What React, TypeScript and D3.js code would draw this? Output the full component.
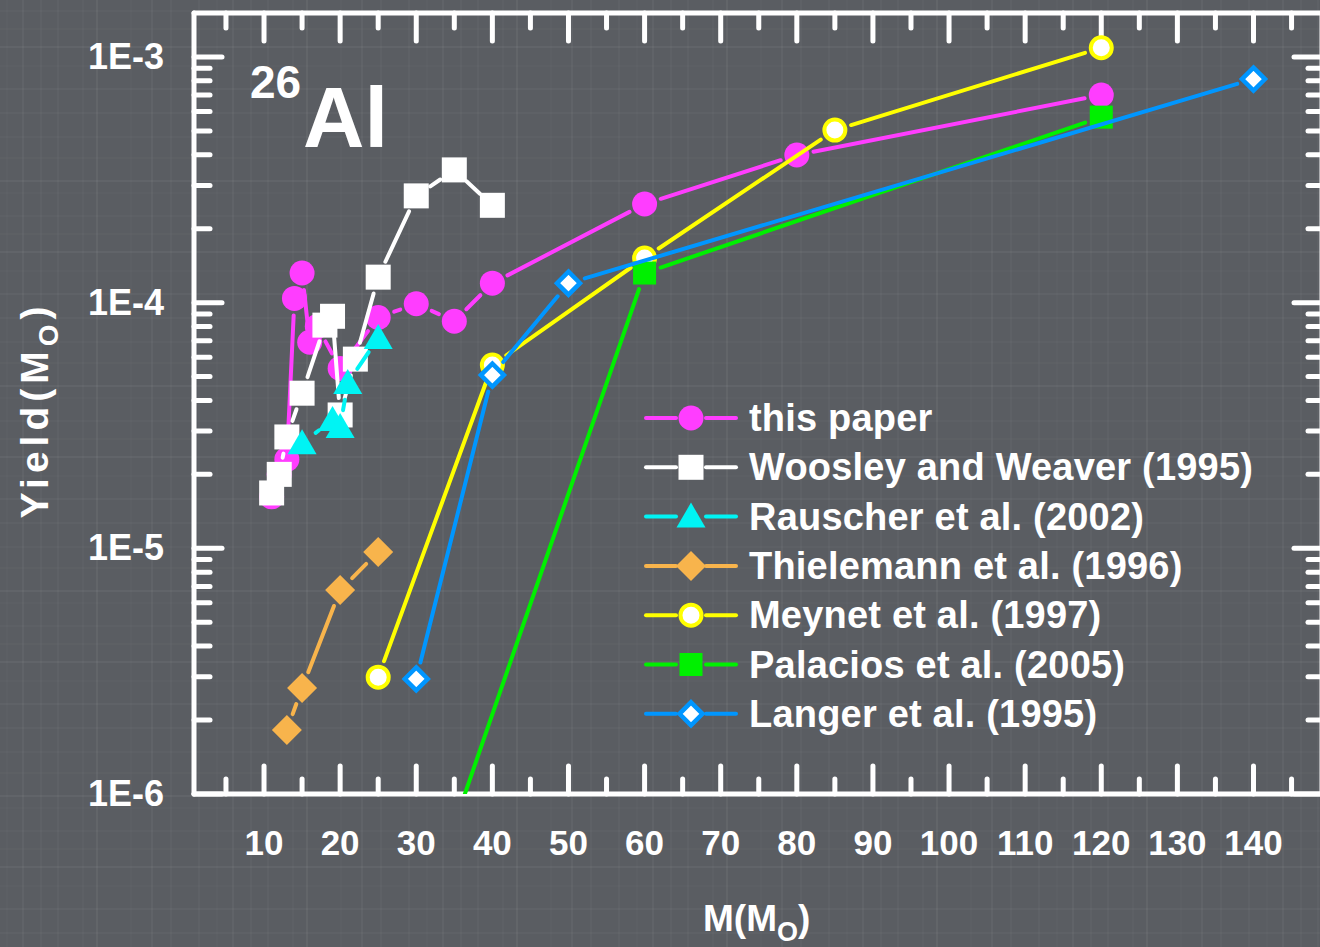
import React from 'react';
import * as d3 from 'd3';

const W = 1320;
const H = 947;

// ---- data ----
const thisPaperM = [11, 12, 13, 14, 15, 16, 17, 20, 25, 30, 35, 40, 60, 80, 120];
const thisPaperY = [1.62e-5, 2.0e-5, 2.3e-5, 1.04e-4, 1.32e-4, 6.9e-5, 8.0e-5, 5.4e-5, 8.7e-5, 9.9e-5, 8.4e-5, 1.2e-4, 2.52e-4, 3.99e-4, 7.0e-4];
const wwM = [11, 12, 13, 15, 18, 19, 20, 22, 25, 30, 35, 40];
const wwY = [1.68e-5, 2.0e-5, 2.84e-5, 4.28e-5, 8.1e-5, 8.8e-5, 3.49e-5, 5.89e-5, 1.27e-4, 2.72e-4, 3.47e-4, 2.49e-4];
const rauscherM = [15, 19, 20, 21, 25];
const rauscherY = [2.68e-5, 3.33e-5, 3.12e-5, 4.71e-5, 7.18e-5];
const thielemannM = [13, 15, 20, 25];
const thielemannY = [1.82e-6, 2.7e-6, 6.76e-6, 9.67e-6];
const meynetM = [25, 40, 60, 85, 120];
const meynetY = [2.99e-6, 5.57e-5, 1.52e-4, 5.04e-4, 1.09e-3];
const palaciosM = [30, 60, 120];
const palaciosY = [2.67e-7, 1.32e-4, 5.69e-4];
const langerM = [30, 40, 50, 140];
const langerY = [2.94e-6, 5.07e-5, 1.2e-4, 8.13e-4];

const seriesNames = [
  'this paper',
  'Woosley and Weaver (1995)',
  'Rauscher et al. (2002)',
  'Thielemann et al. (1996)',
  'Meynet et al. (1997)',
  'Palacios et al. (2005)',
  'Langer et al. (1995)',
];

const xTicks = [10, 20, 30, 40, 50, 60, 70, 80, 90, 100, 110, 120, 130, 140];
const xMinorTicks = [5, 15, 25, 35, 45, 55, 65, 75, 85, 95, 105, 115, 125, 135, 145];
const yTicks = [1e-6, 1e-5, 1e-4, 1e-3];
const yTickLabels = ['1E-6', '1E-5', '1E-4', '1E-3'];

type Sym = 'circle' | 'square' | 'triangle' | 'diamond' | 'ocircle' | 'gsquare' | 'odiamond';
const series: { m: number[]; y: number[]; color: string; sym: Sym }[] = [
  { m: thisPaperM, y: thisPaperY, color: '#ff3dff', sym: 'circle' },
  { m: wwM, y: wwY, color: '#ffffff', sym: 'square' },
  { m: rauscherM, y: rauscherY, color: '#00f4f4', sym: 'triangle' },
  { m: thielemannM, y: thielemannY, color: '#f8b44c', sym: 'diamond' },
  { m: meynetM, y: meynetY, color: '#ffff00', sym: 'ocircle' },
  { m: palaciosM, y: palaciosY, color: '#00f000', sym: 'gsquare' },
  { m: langerM, y: langerY, color: '#0096ff', sym: 'odiamond' },
];

const FONT = "'Liberation Sans', Arial, Helvetica, sans-serif";

const x0 = 194, x1 = 1322, yTop = 13, yBot = 794;
const xScale = d3.scaleLinear().domain([0.8, 149]).range([x0, x1]);
const yScale = d3.scaleLog().domain([1e-6, 1.51e-3]).range([yBot, yTop]);

function Marker({ sym, color, cx, cy }: { sym: Sym; color: string; cx: number; cy: number }) {
  switch (sym) {
    case 'circle':
      return <circle cx={cx} cy={cy} r={12.5} fill={color} />;
    case 'square':
      return <rect x={cx - 12.5} y={cy - 12.5} width={25} height={25} fill={color} />;
    case 'gsquare':
      return <rect x={cx - 11.5} y={cy - 11.5} width={23} height={23} fill={color} />;
    case 'triangle':
      return <path d={`M${cx},${cy - 14}L${cx + 14.5},${cy + 11}L${cx - 14.5},${cy + 11}Z`} fill={color} />;
    case 'diamond':
      return <path d={`M${cx},${cy - 15}L${cx + 15},${cy}L${cx},${cy + 15}L${cx - 15},${cy}Z`} fill={color} />;
    case 'ocircle':
      return <circle cx={cx} cy={cy} r={10.5} fill="#ffffff" stroke={color} strokeWidth={4} />;
    case 'odiamond':
      return (
        <path
          d={`M${cx},${cy - 11.5}L${cx + 11.5},${cy}L${cx},${cy + 11.5}L${cx - 11.5},${cy}Z`}
          fill="#ffffff"
          stroke={color}
          strokeWidth={4.5}
        />
      );
  }
  return null;
}

function gappedSegments(pts: [number, number][], gap: number) {
  const segs: [number, number, number, number][] = [];
  for (let i = 0; i < pts.length - 1; i++) {
    const [ax, ay] = pts[i];
    const [bx, by] = pts[i + 1];
    const dx = bx - ax, dy = by - ay;
    const L = Math.hypot(dx, dy);
    if (L <= 2 * gap) continue;
    const ux = dx / L, uy = dy / L;
    segs.push([ax + ux * gap, ay + uy * gap, bx - ux * gap, by - uy * gap]);
  }
  return segs;
}

// faint texture lines (decorative background pattern)
const texV = [7, 23, 41, 58, 83, 97, 131, 152, 171, 199];
const texH = [11, 29, 47, 66, 89, 113, 137, 158, 181, 193];

export default function App() {
  const yMinor: number[] = [];
  for (let d = -6; d <= -3; d++) {
    for (let k = 2; k <= 9; k++) {
      const v = k * Math.pow(10, d);
      if (v < 1.51e-3) yMinor.push(v);
    }
  }
  const legendY0 = 418;
  const legendDy = 49.3;

  return (
    <svg width={W} height={H} style={{ display: 'block', position: 'absolute', left: 0, top: 0 }}>
      <defs>
        <pattern id="tex" width={210} height={205} patternUnits="userSpaceOnUse">
          {texV.map((v, i) => (
            <line key={'v' + i} x1={v} x2={v} y1={0} y2={205} stroke="#ffffff" strokeOpacity={0.025 + (i % 3) * 0.012} strokeWidth={1 + (i % 2)} />
          ))}
          {texH.map((v, i) => (
            <line key={'h' + i} x1={0} x2={210} y1={v} y2={v} stroke="#ffffff" strokeOpacity={0.02 + (i % 3) * 0.012} strokeWidth={1 + ((i + 1) % 2)} />
          ))}
        </pattern>
        <clipPath id="plotClip">
          <rect x={x0} y={yTop} width={x1 - x0} height={yBot - yTop} />
        </clipPath>
      </defs>
      <rect x={0} y={0} width={W} height={H} fill="#5a5d62" />
      <rect x={0} y={0} width={W} height={H} fill="url(#tex)" />

      {/* title 26Al */}
      <text x={250} y={98} fill="#fff" fontFamily={FONT} fontWeight="bold" fontSize={46}>26</text>
      <text x={303} y={147} fill="#fff" fontFamily={FONT} fontWeight="bold" fontSize={85}>Al</text>

      {/* axes frame */}
      <g stroke="#fff" strokeWidth={5} strokeLinecap="round" fill="none">
        <line x1={x0} y1={yBot} x2={x1} y2={yBot} />
        <line x1={x0} y1={yTop} x2={x1} y2={yTop} />
        <line x1={x0} y1={yTop} x2={x0} y2={yBot} />
        <line x1={x1} y1={yTop} x2={x1} y2={yBot} />
        {xTicks.map((t) => (
          <g key={'xt' + t}>
            <line x1={xScale(t)} x2={xScale(t)} y1={yBot} y2={yBot - 28} />
            <line x1={xScale(t)} x2={xScale(t)} y1={yTop} y2={yTop + 28} />
          </g>
        ))}
        {xMinorTicks.map((t) => (
          <g key={'xm' + t}>
            <line x1={xScale(t)} x2={xScale(t)} y1={yBot} y2={yBot - 15} />
            <line x1={xScale(t)} x2={xScale(t)} y1={yTop} y2={yTop + 15} />
          </g>
        ))}
        {yTicks.map((t) => (
          <g key={'yt' + t}>
            <line x1={x0} x2={x0 + 28} y1={yScale(t)} y2={yScale(t)} />
            <line x1={x1} x2={x1 - 28} y1={yScale(t)} y2={yScale(t)} />
          </g>
        ))}
        {yMinor.map((t) => (
          <g key={'ym' + t}>
            <line x1={x0} x2={x0 + 16} y1={yScale(t)} y2={yScale(t)} />
            <line x1={x1} x2={x1 - 14} y1={yScale(t)} y2={yScale(t)} />
          </g>
        ))}
      </g>

      {/* tick labels */}
      {xTicks.map((t) => (
        <text key={'xl' + t} x={xScale(t)} y={855} textAnchor="middle" fill="#fff" fontFamily={FONT} fontWeight="bold" fontSize={35}>
          {t}
        </text>
      ))}
      {yTicks.map((t, i) => (
        <text key={'yl' + t} x={164} y={yScale(t) + 12} textAnchor="end" fill="#fff" fontFamily={FONT} fontWeight="bold" fontSize={36}>
          {yTickLabels[i]}
        </text>
      ))}

      {/* axis titles */}
      <text x={703} y={931} fill="#fff" fontFamily={FONT} fontWeight="bold" fontSize={37}>
        M(M<tspan dy={10} fontSize={27}>O</tspan><tspan dy={-10}>)</tspan>
      </text>
      <text transform="translate(48,410) rotate(-90)" textAnchor="middle" fill="#fff" fontFamily={FONT} fontWeight="bold" fontSize={39} letterSpacing={5}>
        Yield(M<tspan dy={10} fontSize={28}>O</tspan><tspan dy={-10}>)</tspan>
      </text>

      {/* data */}
      <g clipPath="url(#plotClip)">
        {series.map((s, si) => {
          const pts: [number, number][] = s.m.map((m, i) => [xScale(m), yScale(s.y[i])]);
          const segs = gappedSegments(pts, 17);
          return (
            <g key={'s' + si}>
              {segs.map((g, gi) => (
                <line key={gi} x1={g[0]} y1={g[1]} x2={g[2]} y2={g[3]} stroke={s.color} strokeWidth={4} strokeLinecap="round" />
              ))}
              {pts.map((p, pi) => (
                <Marker key={pi} sym={s.sym} color={s.color} cx={p[0]} cy={p[1]} />
              ))}
            </g>
          );
        })}
      </g>

      {/* legend */}
      {series.map((s, i) => {
        const cy = legendY0 + i * legendDy;
        return (
          <g key={'lg' + i}>
            <line x1={646} x2={676} y1={cy} y2={cy} stroke={s.color} strokeWidth={4} strokeLinecap="round" />
            <line x1={706} x2={736} y1={cy} y2={cy} stroke={s.color} strokeWidth={4} strokeLinecap="round" />
            <Marker sym={s.sym} color={s.color} cx={691} cy={cy} />
            <text x={749} y={cy + 13} fill="#fff" fontFamily={FONT} fontWeight="bold" fontSize={38} letterSpacing={0.2}>
              {seriesNames[i]}
            </text>
          </g>
        );
      })}
    </svg>
  );
}
